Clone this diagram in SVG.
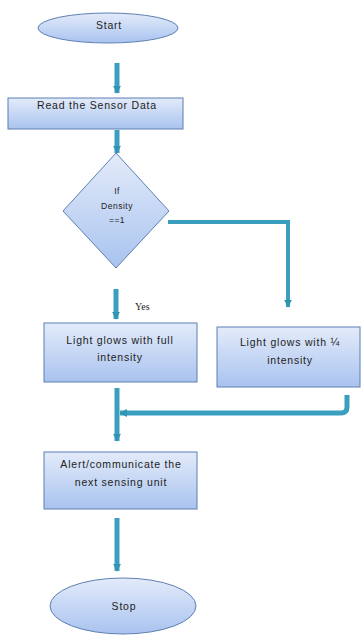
<svg xmlns="http://www.w3.org/2000/svg" width="363" height="636" viewBox="0 0 363 636">
<defs>
<linearGradient id="g" x1="0" y1="0" x2="0" y2="1">
<stop offset="0" stop-color="#e3ebfa"/>
<stop offset="1" stop-color="#a9c3ef"/>
</linearGradient>
<marker id="ah" markerUnits="userSpaceOnUse" viewBox="0 0 10 10" refX="9" refY="5" markerWidth="8" markerHeight="9" orient="auto">
<path d="M0,0 L10,5 L0,10 z" fill="#3294b3"/>
</marker>
</defs>
<style>
.n{fill:url(#g);stroke:#5d7fb3;stroke-width:1}
.t{font-family:"Liberation Sans",Arial,sans-serif;font-size:10.5px;letter-spacing:0.8px;fill:#222;text-anchor:middle}
.s{font-family:"Liberation Sans",Arial,sans-serif;font-size:8.5px;letter-spacing:0.5px;fill:#222;text-anchor:middle}
.c{fill:none;stroke:#3a9fbf;stroke-width:5}
.c2{fill:none;stroke:#3a9fbf;stroke-width:4}
</style>
<rect width="363" height="636" fill="#ffffff"/>
<g id="connectors">
<line class="c" x1="117" y1="63" x2="117" y2="93" marker-end="url(#ah)"/>
<line class="c" x1="117" y1="130" x2="117" y2="153" marker-end="url(#ah)"/>
<path class="c2" d="M168,222 H288 V307" marker-end="url(#ah)"/>
<line class="c" x1="116" y1="289" x2="116" y2="319" marker-end="url(#ah)"/>
<line class="c" x1="117" y1="388" x2="117" y2="441" marker-end="url(#ah)"/>
<path class="c" d="M347,395 V407 Q347,413 341,413 H120" marker-end="url(#ah)"/>
<line class="c" x1="117" y1="518" x2="117" y2="571" marker-end="url(#ah)"/>
</g>
<g id="start">
<ellipse class="n" cx="108" cy="28" rx="70" ry="15"/>
<text class="t" x="109" y="29">Start</text>
</g>
<g id="read">
<rect class="n" x="8" y="98" width="175" height="31"/>
<text class="t" x="97" y="109">Read the Sensor Data</text>
</g>
<g id="decision">
<polygon class="n" points="116,153 169,211 116,268 63,211"/>
<text class="s" x="117" y="194">If</text>
<text class="s" x="117" y="209">Density</text>
<text class="s" x="117" y="223">==1</text>
</g>
<g id="yes-label">
<text x="135" y="310" font-family="Liberation Serif,Times New Roman,serif" font-size="10" fill="#222">Yes</text>
</g>
<g id="full">
<rect class="n" x="44" y="323" width="153" height="59"/>
<text class="t" x="120" y="344">Light glows with full</text>
<text class="t" x="120" y="361">intensity</text>
</g>
<g id="quarter">
<rect class="n" x="217" y="327" width="143" height="60"/>
<text class="t" x="290" y="346">Light glows with ¼</text>
<text class="t" x="290" y="364">intensity</text>
</g>
<g id="alert">
<rect class="n" x="44" y="452" width="153" height="57"/>
<text class="t" x="121" y="468">Alert/communicate the</text>
<text class="t" x="121" y="486">next sensing unit</text>
</g>
<g id="stop">
<ellipse class="n" cx="123" cy="606" rx="73" ry="28"/>
<text class="t" x="124" y="610">Stop</text>
</g>
</svg>
